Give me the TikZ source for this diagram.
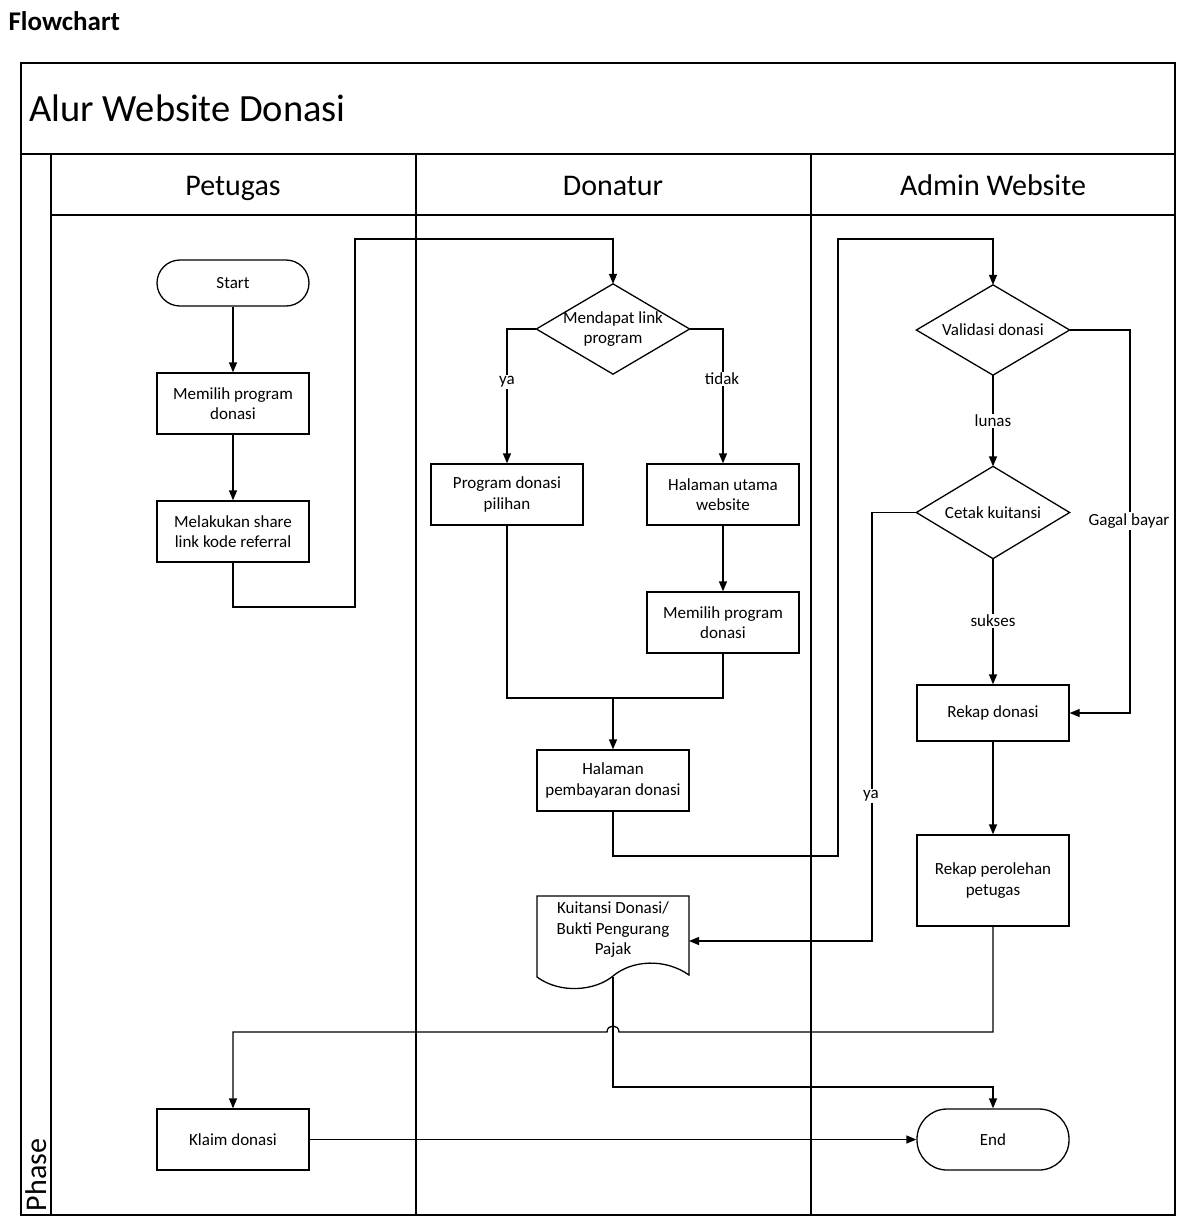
\documentclass[tikz,border=0pt]{standalone}
\usepackage{fontspec}
\setmainfont{Carlito}
\usetikzlibrary{arrows.meta}
\tikzset{
  base/.style={font=\fontsize{17}{20.5}\selectfont, align=center, line width=1.3pt},
  box/.style={base, draw, minimum width=152pt, minimum height=61pt, inner sep=2pt},
  term/.style={base, draw, minimum width=152pt, rounded corners=23pt},
  dec/.style={base, minimum width=152pt, minimum height=89pt, inner sep=0pt},
  arr/.style={line width=1.3pt, -{Triangle[length=10pt,width=8pt]}},
  ln/.style={line width=1.3pt},
  lbl/.style={font=\fontsize{17}{19}\selectfont, fill=white, inner sep=1.5pt},
  lane/.style={font=\fontsize{30}{34}\selectfont, anchor=base},
}
\begin{document}
\begin{tikzpicture}[x=1pt,y=-1pt]
\useasboundingbox (0,0) rectangle (1186,1227);
% frame
\node[anchor=west, font=\bfseries\fontsize{27}{30}\selectfont] (fc) at (5,21) {Flowchart};
\draw[line width=1.8pt] (21,63) rectangle (1175,1215);
\draw[line width=1.8pt] (21,154) -- (1175,154);
\draw[line width=1.5pt] (51,154) -- (51,1215);
\draw[line width=1.5pt] (51,215) -- (1175,215);
\draw[line width=1.5pt] (416,154) -- (416,1215);
\draw[line width=1.5pt] (811,154) -- (811,1215);
\node[anchor=west, font=\fontsize{38.5}{42}\selectfont] (ttl) at (26,108) {Alur Website Donasi};
\node[lane] (l1) at (233,195) {Petugas};
\node[lane] (l2) at (613,195) {Donatur};
\node[lane] (l3) at (993,195) {Admin Website};
\node[lane, rotate=90, anchor=center] (ph) at (36,1175) {Phase};
% nodes
\node[term, minimum height=46pt] (start) at (233,283) {Start};
\node[box] (pp) at (233,403.5) {Memilih program\\donasi};
\node[box] (share) at (233,531.5) {Melakukan share\\link kode referral};
\node[dec] (d1) at (613,329) {Mendapat link\\program};
\draw[line width=1.3pt] (d1.north) -- (d1.east) -- (d1.south) -- (d1.west) -- cycle;
\node[box] (pil) at (507,494.5) {Program donasi\\pilihan};
\node[box] (hu) at (723,494.5) {Halaman utama\\website};
\node[box] (m2) at (723,622.5) {Memilih program\\donasi};
\node[box] (bayar) at (613,780.5) {Halaman\\pembayaran donasi};
\node[base] (kui) at (613,930) {Kuitansi Donasi/\\Bukti Pengurang\\Pajak};
\draw[line width=1.3pt] (537,896) -- (689,896) -- (689,975)
  .. controls (665,958) and (632,960) .. (613,976)
  .. controls (595,991) and (560,994) .. (537,977) -- cycle;
\coordinate (kuiE) at (689,941);
\coordinate (kuiS) at (613,977);
\node[dec] (val) at (993,330) {Validasi donasi};
\draw[line width=1.3pt] (val.north) -- (val.east) -- (val.south) -- (val.west) -- cycle;
\node[dec, minimum height=91pt] (ck) at (993,512.5) {Cetak kuitansi};
\draw[line width=1.3pt] (ck.north) -- (ck.east) -- (ck.south) -- (ck.west) -- cycle;
\node[box, minimum height=56pt] (rekap) at (993,713) {Rekap donasi};
\node[box, minimum height=91pt] (rp) at (993,880.5) {Rekap perolehan\\petugas};
\node[box] (klaim) at (233,1139.5) {Klaim donasi};
\node[term, minimum height=61pt, rounded corners=30pt] (end) at (993,1139.5) {End};
% connectors
\draw[arr] (start) -- (pp);
\draw[arr] (pp) -- (share);
\draw[arr] (share.south) |- (355,607) |- (613,239) -- (d1.north);
\draw[arr] (d1.west) -| (pil.north);
\node[lbl] (lya1) at (507,382) {ya};
\draw[arr] (d1.east) -| (hu.north);
\node[lbl] (ltd) at (722,379) {tidak};
\draw[arr] (hu) -- (m2);
\coordinate (j) at (613,698);
\draw[ln] (pil.south) |- (j);
\draw[ln] (m2.south) |- (j);
\draw[arr] (j) -- (bayar.north);
\draw[arr] (bayar.south) |- (838,856) |- (993,239) -- (val.north);
\draw[arr] (val.south) -- (ck.north);
\node[lbl] (llun) at (993,421) {lunas};
\draw[arr] (ck.south) -- (rekap.north);
\node[lbl] (lsuk) at (993,621) {sukses};
\draw[arr] (val.east) -| (1130,713) -- (rekap.east);
\node[lbl] (lgb) at (1129,521) {Gagal bayar};
\draw[arr] (ck.west) -| (872,941) -- (kuiE);
\node[lbl] (lya2) at (871,796) {ya};
\draw[arr] (rekap) -- (rp);
\draw[arr] (rp.south) |- (619,1032) .. controls (619,1024) and (607,1024) .. (607,1032) -| (klaim.north);
\draw[arr] (kuiS) |- (993,1087) -- (end.north);
\draw[arr] (klaim) -- (end);
\end{tikzpicture}
\end{document}
